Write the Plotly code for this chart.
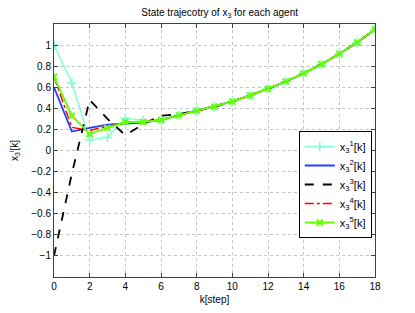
import plotly.graph_objects as go

k = list(range(19))
tail = [0.333, 0.377, 0.415, 0.465, 0.522, 0.585, 0.654, 0.733, 0.818, 0.918, 1.025, 1.15]
x1 = [1.0, 0.64, 0.10, 0.125, 0.305, 0.285, 0.29] + tail
x2 = [0.60, 0.18, 0.215, 0.245, 0.255, 0.265, 0.29] + tail
x3 = [-1.0, -0.22, 0.48, 0.30, 0.145, 0.25, 0.33, 0.345] + tail[1:]
x4 = [0.70, 0.22, 0.19, 0.23, 0.26, 0.27, 0.29] + tail
x5 = [0.70, 0.33, 0.157, 0.215, 0.27, 0.27, 0.29] + tail

names = ["x<sub>3</sub><sup>1</sup>[k]", "x<sub>3</sub><sup>2</sup>[k]", "x<sub>3</sub><sup>3</sup>[k]",
         "x<sub>3</sub><sup>4</sup>[k]", "x<sub>3</sub><sup>5</sup>[k]"]

fig = go.Figure()
fig.add_trace(go.Scatter(x=k, y=x1, name=names[0], mode="lines+markers",
                         line=dict(color="#7fffd4", width=1.5),
                         marker=dict(symbol="cross-thin-open", size=7, line=dict(color="#7fffd4", width=1.5))))
fig.add_trace(go.Scatter(x=k, y=x2, name=names[1], mode="lines",
                         line=dict(color="#2040ff", width=1.8)))
fig.add_trace(go.Scatter(x=k, y=x3, name=names[2], mode="lines",
                         line=dict(color="black", width=1.8, dash="dash")))
fig.add_trace(go.Scatter(x=k, y=x4, name=names[3], mode="lines",
                         line=dict(color="red", width=1.5, dash="dashdot")))
fig.add_trace(go.Scatter(x=k, y=x5, name=names[4], mode="lines+markers",
                         line=dict(color="#66ff00", width=2),
                         marker=dict(symbol="x-thin-open", size=6, line=dict(color="#66ff00", width=2))))

font = "Liberation Sans, Arial, sans-serif"
axis_common = dict(showline=True, linecolor="#404040", linewidth=1, mirror="ticks",
                   ticks="inside", ticklen=4, tickcolor="#404040", automargin=False,
                   showgrid=True, gridcolor="#c4c4c4", griddash="dot", gridwidth=1,
                   zeroline=False, tickfont=dict(family=font, size=10, color="black"))

fig.update_layout(
    width=407, height=305,
    margin=dict(l=46, r=40, t=16, b=36),
    paper_bgcolor="white", plot_bgcolor="white",
    title=dict(text="State trajecotry of x<sub>3</sub> for each agent", x=0.52, xanchor="center",
               y=0.998, yanchor="top", font=dict(family=font, size=10, color="black")),
    xaxis=dict(range=[0, 18], tickvals=list(range(0, 19, 2)), title=dict(text="k[step]", standoff=4,
               font=dict(family=font, size=10, color="black")), **axis_common),
    yaxis=dict(range=[-1.2, 1.2], tickvals=[-1, -0.8, -0.6, -0.4, -0.2, 0, 0.2, 0.4, 0.6, 0.8, 1],
               ticktext=["\u22121", "\u22120.8", "\u22120.6", "\u22120.4", "\u22120.2", "0", "0.2", "0.4", "0.6", "0.8", "1"],
               title=dict(text="x<sub>3</sub><sup>i</sup>[k]", standoff=10,
                          font=dict(family=font, size=10, color="black")), **axis_common),
    legend=dict(x=0.99, xanchor="right", y=0.577, yanchor="top", bgcolor="white",
                bordercolor="black", borderwidth=1, font=dict(family=font, size=11, color="black"),
                tracegroupgap=0, itemwidth=30),
    showlegend=True,
)

fig.write_html("out.html")
